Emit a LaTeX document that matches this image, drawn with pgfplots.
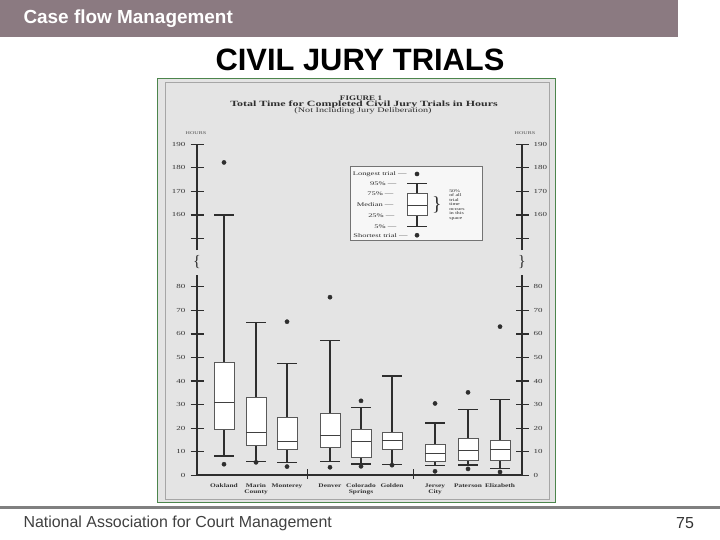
\documentclass[border=0pt]{standalone}
\usepackage{fontspec}
\setmainfont{Liberation Sans}
\newfontfamily\figfont{Liberation Serif}
\usepackage{pgfplots}
\pgfplotsset{compat=1.18}
\usepgfplotslibrary{statistics}
\definecolor{barmauve}{HTML}{8B7A81}
\definecolor{scan}{HTML}{E4E4E4}
\definecolor{ink}{HTML}{2E2E2E}
\newcommand\tl{\rule{0pt}{4.3bp}}

% x: 1 unit = 32 px; y: values above the axis break are shifted down by 49.5 (160 h -> 110.5)
\pgfplotsset{
  jurybox/.style={
    draw=ink, mark=*, mark size=2.1bp, mark options={fill=ink, draw=ink},
    boxplot/draw direction=y,
    boxplot/box extend=0.625, boxplot/whisker extend=0.625,
    boxplot/every box/.style={draw=black!65, fill=white, line width=0.9bp},
    boxplot/every whisker/.style={draw=ink, line width=1.5bp},
    boxplot/every median/.style={draw=black!75, line width=1bp},
  },
  juryaxis/.style={
    at={(sw)}, anchor=south west,
    scale only axis, width=325bp, height=331bp,
    xmin=0, xmax=10.156, ymin=0, ymax=140.5,
    axis line style={draw=none}, clip=false,
    ytick={0,10,...,80,100.5,110.5,120.5,130.5,140.5},
    yticklabels={0,10,20,30,40,50,60,70,80,,160,170,180,190},
    tick align=center, major tick length=13bp,
    major tick style={ink, line width=1.3bp},
    every major x tick/.style={draw=none},
    yticklabel style={font=\figfont\fontsize{6.2}{6.2}\selectfont, text=black!80, xscale=1.45},
  },
}

\begin{document}
\begin{tikzpicture}[x=1bp, y=1bp]
\useasboundingbox (0,0) rectangle (720,540);
\fill[white] (0,0) rectangle (720,540);
% slide header and footer
\fill[barmauve] (0,503) rectangle (678,540);
\node[anchor=west, text=white, font=\fontsize{19}{19}\selectfont\bfseries] at (20,521.5) {Case flow Management};
\node[font=\fontsize{31}{31}\selectfont\bfseries] at (360,480) {CIVIL JURY TRIALS};
\draw[black!50, line width=3bp] (0,32) -- (720,32);
\node[anchor=west, text=black!75, font=\fontsize{16}{16}\selectfont] at (20,17) {National Association for Court Management};
\node[text=black!80, font=\fontsize{16}{16}\selectfont] at (685,17) {75};
% scanned figure frame
\draw[fill=scan, draw=black!45!green!40!gray, line width=0.8bp] (157,38) rectangle (555,462);
\draw[black!35, line width=0.6bp] (165,41) rectangle (549,458);
\node[font=\figfont\fontsize{7}{7}\selectfont\bfseries, text=ink, xscale=1.3] at (361,442) {FIGURE 1};
\node[font=\figfont\fontsize{8}{8}\selectfont\bfseries, text=ink, xscale=1.5] at (364,435) {Total Time for Completed Civil Jury Trials in Hours};
\node[font=\figfont\fontsize{7}{7}\selectfont, text=ink, xscale=1.46] at (363,429) {(Not Including Jury Deliberation)};
\node[font=\figfont\fontsize{4.2}{4.2}\selectfont, text=black!70, xscale=1.45] at (196,407) {HOURS};
\node[font=\figfont\fontsize{4.2}{4.2}\selectfont, text=black!70, xscale=1.45] at (525,407) {HOURS};
\coordinate (sw) at (197,64.7);

\begin{axis}[juryaxis, ytick pos=left,
  xtick={0.844,1.844,2.813,4.156,5.125,6.094,7.438,8.469,9.469},
  xticklabels={\tl Oakland, \tl Marin\\County, \tl Monterey, \tl Denver, \tl Colorado\\Springs, \tl Golden, \tl Jersey\\City, \tl Paterson, \tl Elizabeth},
  xticklabel style={font=\figfont\fontsize{5.5}{5.7}\selectfont\bfseries, text=black!80, align=center,
    anchor=north, yshift=2bp, xscale=1.35},
]
% axis lines with break
\draw[ink, line width=1.8bp] (0,0) -- (0,85) (0,95.6) -- (0,140.5);
\draw[ink, line width=1.8bp] (10.156,0) -- (10.156,85) (10.156,95.6) -- (10.156,140.5);
\draw[ink, line width=1.6bp] (0,0) -- (10.156,0);
\draw[ink, line width=1.2bp] (3.456,-1.5) -- (3.456,2.5) (6.768,-1.5) -- (6.768,2.5);
\node[font=\figfont\fontsize{16}{16}\selectfont, text=ink] at (0,90.6) {\{};
\node[font=\figfont\fontsize{16}{16}\selectfont, text=ink] at (10.156,90.6) {\}};

% Oakland
\addplot[jurybox, boxplot prepared={draw position=0.844, lower whisker=8.2, lower quartile=19.5, median=30.9, upper quartile=47.9, upper whisker=110.5}]
  table[row sep=\\, y index=0] {h\\ 4.7\\ 132.8\\};
% Marin County
\addplot[jurybox, boxplot prepared={draw position=1.844, lower whisker=5.9, lower quartile=12.6, median=18.3, upper quartile=33.1, upper whisker=64.9}]
  table[row sep=\\, y index=0] {h\\ 5.5\\};
% Monterey
\addplot[jurybox, boxplot prepared={draw position=2.813, lower whisker=5.4, lower quartile=10.8, median=14.4, upper quartile=24.6, upper whisker=47.5}]
  table[row sep=\\, y index=0] {h\\ 3.7\\ 65.2\\};
% Denver
\addplot[jurybox, boxplot prepared={draw position=4.156, lower whisker=5.9, lower quartile=11.9, median=17.0, upper quartile=26.2, upper whisker=57.2}]
  table[row sep=\\, y index=0] {h\\ 3.4\\ 75.6\\};
% Colorado Springs
\addplot[jurybox, boxplot prepared={draw position=5.125, lower whisker=4.8, lower quartile=7.7, median=14.5, upper quartile=19.3, upper whisker=28.8}]
  table[row sep=\\, y index=0] {h\\ 3.8\\ 31.6\\};
% Golden
\addplot[jurybox, boxplot prepared={draw position=6.094, lower whisker=4.5, lower quartile=10.9, median=14.6, upper quartile=18.3, upper whisker=42.1}]
  table[row sep=\\, y index=0] {h\\ 4.3\\};
% Jersey City
\addplot[jurybox, boxplot prepared={draw position=7.438, lower whisker=4.1, lower quartile=6.0, median=9.4, upper quartile=12.9, upper whisker=22.1}]
  table[row sep=\\, y index=0] {h\\ 1.7\\ 30.5\\};
% Paterson
\addplot[jurybox, boxplot prepared={draw position=8.469, lower whisker=4.3, lower quartile=6.1, median=10.6, upper quartile=15.6, upper whisker=27.9}]
  table[row sep=\\, y index=0] {h\\ 2.7\\ 35.2\\};
% Elizabeth
\addplot[jurybox, boxplot prepared={draw position=9.469, lower whisker=2.8, lower quartile=6.4, median=10.9, upper quartile=14.9, upper whisker=32.1}]
  table[row sep=\\, y index=0] {h\\ 1.4\\ 63.1\\};

% key box
\draw[black!55, fill=black!3, line width=0.6bp] (4.8,99.9) rectangle (8.93,131);
\addplot[jurybox, boxplot prepared={draw position=6.875, lower whisker=105.7, lower quartile=110.2, median=114.7, upper quartile=119.5, upper whisker=123.8}]
  table[row sep=\\, y index=0] {h\\ 101.9\\ 127.9\\};
\begin{scope}[font=\figfont\fontsize{5.5}{5.5}\selectfont, text=ink]
\node[anchor=east, xscale=1.55] at (6.72,127.9) {Longest trial —};
\node[anchor=east, xscale=1.55] at (6.40,123.8) {95\% —};
\node[anchor=east, xscale=1.55] at (6.31,119.5) {75\% —};
\node[anchor=east, xscale=1.55] at (6.31,114.7) {Median —};
\node[anchor=east, xscale=1.55] at (6.34,110.2) {25\% —};
\node[anchor=east, xscale=1.55] at (6.40,105.7) {5\% —};
\node[anchor=east, xscale=1.55] at (6.75,101.9) {Shortest trial —};
\end{scope}
\node[font=\figfont\fontsize{20}{20}\selectfont, text=ink] at (7.50,114.7) {\}};
\node[anchor=north west, align=left, inner sep=0pt, xscale=1.4, font=\figfont\fontsize{4.2}{4.6}\selectfont, text=ink] at (7.875,121.5) {50\%\\of all\\trial\\time\\occurs\\in this\\space};
\end{axis}

\begin{axis}[juryaxis, ytick pos=right, yticklabel pos=right, xtick=\empty]
\end{axis}
\end{tikzpicture}
\end{document}
